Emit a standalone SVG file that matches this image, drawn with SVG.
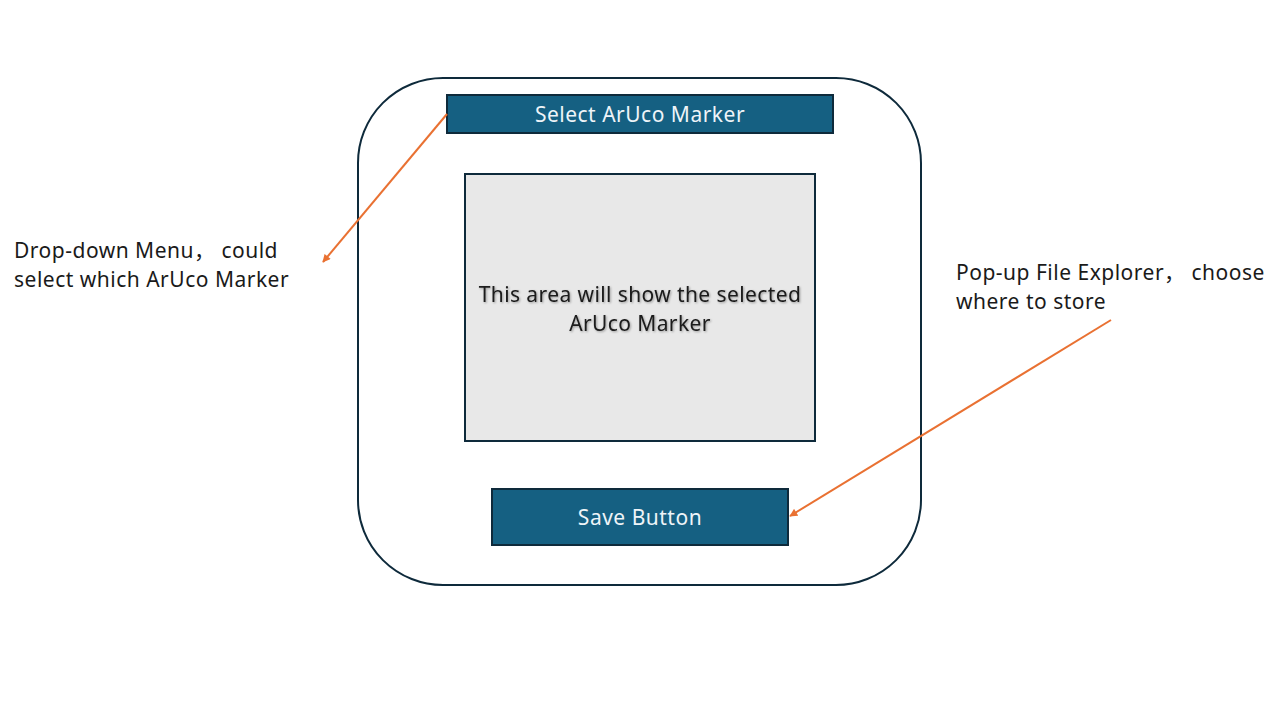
<svg xmlns="http://www.w3.org/2000/svg" width="1280" height="720" viewBox="0 0 1280 720">
<defs>
<marker id="ah" viewBox="0 0 10 10" refX="9" refY="5" markerWidth="9" markerHeight="8" markerUnits="userSpaceOnUse" orient="auto"><path d="M0,0 L10,5 L0,10 z" fill="#E97132"/></marker>
<filter id="sh" x="-5%" y="-20%" width="110%" height="140%"><feDropShadow dx="1" dy="1" stdDeviation="1" flood-color="#000" flood-opacity="0.35"/></filter>
</defs>
<style>
.t{font-family:"Noto Sans","Noto Sans CJK SC",sans-serif;font-size:21px;letter-spacing:0.5px;fill:#1a1a1a;white-space:pre}
.btn{fill:#156082;stroke:#0e2a3b;stroke-width:2}
.bt{font-family:"Noto Sans","Noto Sans CJK SC",sans-serif;font-size:21px;letter-spacing:0.5px;fill:#eef4f8;text-anchor:middle}
.con{stroke:#E97132;stroke-width:2;fill:none;marker-end:url(#ah)}
</style>
<rect width="1280" height="720" fill="#fff"/>
<g id="window"><rect x="358" y="78" width="563" height="507" rx="85" ry="85" fill="#fff" stroke="#0e2a3b" stroke-width="2"/></g>
<g id="select"><rect class="btn" x="447" y="95" width="386" height="38"/><text class="bt" x="640" y="122">Select ArUco Marker</text></g>
<g id="display"><rect x="465" y="174" width="350" height="267" fill="#e8e8e8" stroke="#0e2a3b" stroke-width="2"/>
<text class="t" text-anchor="middle" filter="url(#sh)" style="letter-spacing:0.4px"><tspan x="640" y="302">This area will show the selected</tspan><tspan x="640" y="331">ArUco Marker</tspan></text></g>
<g id="save"><rect class="btn" x="492" y="489" width="296" height="56"/><text class="bt" x="640" y="525">Save Button</text></g>
<g id="note-left"><text class="t"><tspan x="14" y="258">Drop-down Menu， could</tspan><tspan x="14" y="287">select which ArUco Marker</tspan></text></g>
<g id="note-right"><text class="t"><tspan x="956" y="280">Pop-up File Explorer， choose</tspan><tspan x="956" y="309">where to store</tspan></text></g>
<g id="connectors">
<line class="con" x1="447" y1="114" x2="323" y2="262"/>
<line class="con" x1="1111" y1="320" x2="790" y2="516"/>
</g>
</svg>
